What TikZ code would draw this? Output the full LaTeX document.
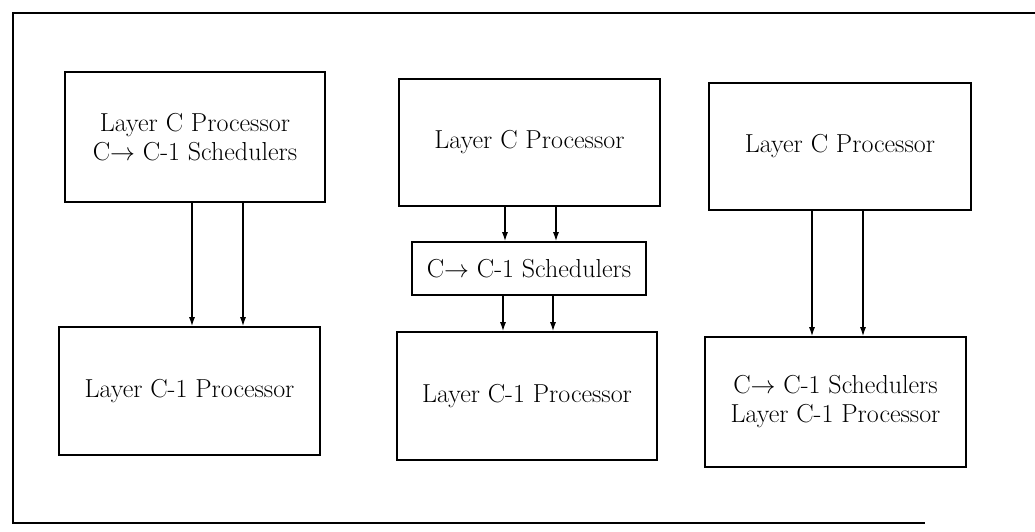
\documentclass[tikz,border=0pt]{standalone}
\usetikzlibrary{arrows.meta}
\begin{document}
\begin{tikzpicture}[x=1pt,y=-1pt,
  box/.style={draw,line width=1.6pt,align=center,inner sep=0pt,
    font=\fontsize{26}{29}\selectfont},
  feed/.style={line width=1.3pt,-{Latex[length=9pt,width=6pt]}},
  frame/.style={line width=1.8pt}]
\useasboundingbox (0,0) rectangle (1035,532);
% outer frame (open on the right)
\draw[frame] (1035,13) -- (13,13) -- (13,523) -- (925,523);

% column 1: scheduler inside the upper processor
\node[box,minimum width=260pt,minimum height=130pt] (b1t) at (195,137)
  {Layer C Processor\\C$\rightarrow$ C-1 Schedulers};
\node[box,minimum width=261pt,minimum height=128pt] (b1b) at (189.5,391)
  {Layer C-1 Processor};

% column 2: scheduler as a separate stage
\node[box,minimum width=261pt,minimum height=127pt] (b2t) at (529.5,142.5)
  {Layer C Processor};
\node[box,minimum width=234pt,minimum height=53pt] (b2s) at (529,268.5)
  {C$\rightarrow$ C-1 Schedulers};
\node[box,minimum width=260pt,minimum height=128pt] (b2b) at (527,396)
  {Layer C-1 Processor};

% column 3: scheduler inside the lower processor
\node[box,minimum width=262pt,minimum height=127pt] (b3t) at (840,146.5)
  {Layer C Processor};
\node[box,minimum width=261pt,minimum height=130pt] (b3b) at (835.5,402)
  {C$\rightarrow$ C-1 Schedulers\\Layer C-1 Processor};

% x positions of the paired links
\coordinate (xa) at (192,0);
\coordinate (xb) at (243,0);
\coordinate (xc) at (505,0);
\coordinate (xd) at (556,0);
\coordinate (xe) at (503,0);
\coordinate (xf) at (553,0);
\coordinate (xg) at (812,0);
\coordinate (xh) at (863,0);

\draw[feed] (b1t.south -| xa) -- (b1b.north -| xa);
\draw[feed] (b1t.south -| xb) -- (b1b.north -| xb);
\draw[feed] (b2t.south -| xc) -- (b2s.north -| xc);
\draw[feed] (b2t.south -| xd) -- (b2s.north -| xd);
\draw[feed] (b2s.south -| xe) -- (b2b.north -| xe);
\draw[feed] (b2s.south -| xf) -- (b2b.north -| xf);
\draw[feed] (b3t.south -| xg) -- (b3b.north -| xg);
\draw[feed] (b3t.south -| xh) -- (b3b.north -| xh);
\end{tikzpicture}
\end{document}
